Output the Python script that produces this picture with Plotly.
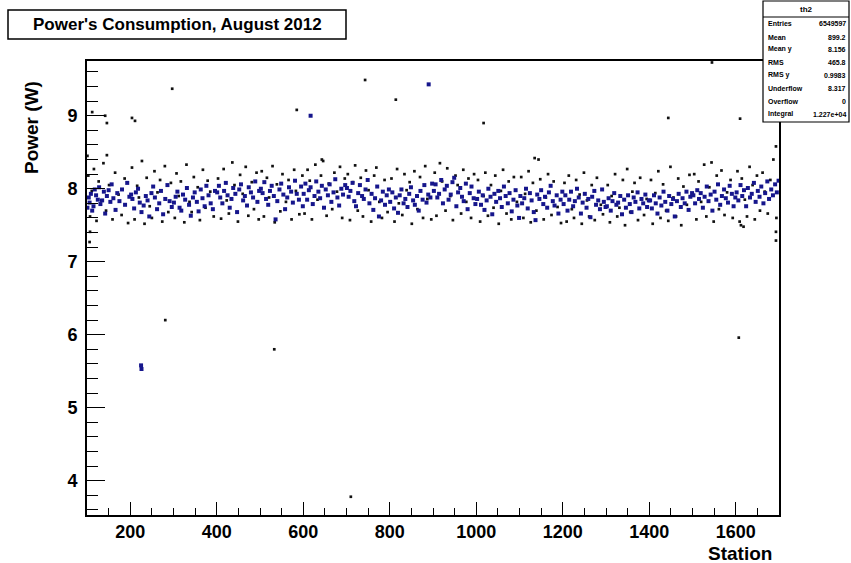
import plotly.graph_objects as go

# ---------------- data ----------------
blue_x = [101,104,106,109,112,115,118,121,125,128,131,135,139,142,146,150,154,157,161,166,170,175,181,188,193,198,
          202,205,209,213,218,222,226,231,236,240,244,249,253,257,262,267,271,276,281,286,291,296,
          301,305,309,314,318,322,327,331,336,340,345,349,354,358,363,367,372,376,381,386,391,396,
          401,405,408,413,417,421,425,430,434,438,443,447,452,456,461,465,470,474,479,484,489,494,498,
          502,506,510,514,519,523,527,532,536,540,545,549,554,558,563,567,572,576,581,585,590,595,599,
          601,605,609,613,617,622,626,630,635,639,643,648,652,657,661,665,670,674,679,683,688,692,697,
          701,705,709,714,718,722,727,731,736,740,744,749,753,758,762,766,771,775,780,784,789,793,798,
          801,806,810,814,819,823,827,832,836,841,845,849,854,858,863,867,871,876,880,885,889,894,898,
          902,906,910,914,919,923,927,932,936,941,945,949,954,958,963,967,971,976,980,985,989,994,998,
          1002,1006,1011,1015,1019,1024,1028,1033,1037,1042,1046,1051,1055,1059,1064,1068,1073,1077,1082,1086,1091,1095,1099,
          1102,1106,1111,1115,1119,1124,1128,1133,1137,1141,1146,1150,1155,1159,1164,1168,1172,1177,1181,1186,1190,1195,1199,
          1202,1206,1211,1215,1219,1224,1228,1233,1237,1242,1246,1251,1255,1259,1264,1268,1273,1277,1282,1286,1291,1295,1299,
          1302,1306,1311,1315,1319,1324,1328,1333,1337,1342,1346,1351,1355,1359,1364,1368,1373,1377,1382,1386,1391,1395,1399,
          1402,1406,1411,1415,1419,1424,1428,1433,1437,1442,1446,1451,1455,1459,1464,1468,1473,1477,1482,1486,1491,1495,1499,
          1502,1506,1511,1515,1519,1524,1528,1533,1537,1542,1546,1551,1555,1559,1564,1568,1573,1577,1582,1586,1591,1595,1599,
          1602,1606,1611,1615,1619,1624,1628,1633,1637,1642,1646,1651,1655,1659,1664,1668,1673,1677,1682,1686,1691,1695,1699,
          225,226,617,890]
blue_y = [7.74,7.88,7.81,7.93,7.70,7.76,7.99,7.91,7.85,8.02,7.79,7.84,7.96,7.66,7.90,7.98,7.82,8.06,7.87,7.71,7.94,7.83,7.99,7.78,8.08,7.89,
          7.92,7.86,7.73,7.95,8.00,7.81,7.68,7.77,7.90,7.84,7.62,7.94,8.03,7.88,7.72,7.80,7.97,7.65,7.86,8.05,7.83,7.75,
          7.81,7.89,7.96,7.74,7.70,7.92,7.85,8.01,7.78,7.63,7.88,7.95,7.82,7.69,7.99,7.87,7.76,8.04,7.91,7.80,7.72,7.97,
          7.95,8.04,7.88,7.80,7.97,8.08,7.91,7.74,7.86,8.01,7.93,7.68,7.99,8.06,7.84,7.90,7.77,8.02,7.95,7.88,8.10,7.82,7.97,
          8.00,7.94,8.09,7.86,7.78,7.97,8.04,7.90,7.58,7.83,7.99,8.07,7.92,7.72,7.88,8.02,7.96,7.81,8.11,7.93,7.85,8.03,7.76,
          7.93,8.07,7.85,7.98,8.02,7.79,7.90,8.10,7.96,7.87,8.04,7.74,7.99,7.91,8.06,7.82,7.95,8.13,7.88,7.77,8.00,7.92,8.05,
          8.01,7.89,7.97,8.08,7.83,7.76,7.94,8.05,7.90,7.86,7.99,8.12,7.80,7.93,7.71,7.87,8.03,7.62,7.84,7.96,7.78,7.91,7.99,
          7.82,7.95,7.73,7.88,7.67,7.91,7.99,7.80,7.86,7.75,7.93,8.02,7.84,7.78,7.90,7.70,7.97,7.85,8.05,7.81,7.92,7.88,8.07,
          7.97,8.06,7.88,7.93,8.12,7.80,7.99,8.04,7.85,7.92,8.09,8.15,7.76,7.95,8.01,7.89,7.83,8.07,7.72,7.94,8.03,7.87,7.79,
          7.86,7.96,7.78,7.91,7.71,7.84,8.00,7.89,7.65,7.93,7.82,7.97,7.87,7.75,8.03,7.90,7.80,7.94,7.69,7.85,7.98,7.77,7.60,
          7.90,7.80,7.87,8.00,7.73,7.94,7.84,7.68,7.57,7.92,7.86,7.98,7.79,7.89,7.74,7.95,8.04,7.83,7.77,7.91,7.66,7.85,7.96,
          7.79,7.91,7.70,7.85,7.96,7.76,7.83,8.00,7.88,7.66,7.81,7.93,7.74,7.86,7.61,7.89,7.97,7.78,7.84,7.72,7.99,7.82,7.75,
          7.76,7.87,7.70,7.83,7.94,7.78,7.81,7.90,7.65,7.85,7.74,7.91,7.79,7.68,7.88,7.82,7.95,7.73,7.86,7.80,7.92,7.75,7.84,
          7.84,7.73,7.91,7.80,7.66,7.88,7.77,7.96,7.82,7.70,7.90,7.79,7.86,7.62,7.83,7.93,7.75,7.87,7.80,7.96,7.71,7.89,7.94,
          7.91,7.80,7.98,7.86,7.94,7.74,7.89,8.03,7.83,7.92,7.70,7.96,7.85,8.06,7.78,7.90,7.99,7.87,7.81,8.04,7.93,7.76,7.88,
          7.95,7.84,8.05,7.90,7.98,7.76,8.01,7.88,7.93,8.08,7.82,7.97,7.89,8.03,7.80,7.94,8.10,7.86,7.99,7.91,8.06,7.95,8.11,
          5.58,5.53,9.00,9.43]

black_x = [103,107,111,116,122,127,133,138,144,151,159,165,173,180,187,195,
           204,210,216,220,227,233,238,245,250,256,263,269,274,280,288,294,
           303,307,312,317,325,330,337,342,347,356,361,368,374,379,385,393,
           403,410,416,423,428,436,441,449,454,460,467,473,481,486,492,497,
           504,509,516,521,529,534,539,547,552,560,566,573,579,583,591,598,
           603,610,615,620,628,633,641,646,654,659,667,672,678,685,690,696,
           703,708,715,720,726,733,738,745,751,757,764,769,776,782,788,795,
           804,811,817,821,829,834,839,846,851,857,864,870,877,882,887,896,
           904,908,916,921,929,933,940,946,952,957,965,970,977,982,988,995,
           1004,1009,1017,1021,1027,1034,1040,1044,1052,1057,1062,1070,1075,1081,1087,1094,
           1104,1109,1113,1121,1126,1131,1139,1144,1148,1156,1161,1166,1174,1179,1188,1196,
           1204,1209,1214,1221,1226,1231,1239,1244,1249,1256,1261,1267,1274,1279,1288,1293,
           1304,1309,1313,1321,1326,1331,1339,1344,1349,1356,1361,1366,1374,1379,1388,1394,
           1404,1408,1414,1421,1426,1432,1439,1444,1449,1456,1462,1467,1474,1479,1487,1493,
           1504,1509,1514,1520,1527,1532,1539,1544,1549,1556,1561,1567,1574,1580,1588,1593,
           1604,1609,1614,1621,1626,1632,1639,1644,1649,1656,1662,1667,1674,1680,1687,1694,
           112,142,146,204,211,297,101,146,281,533,585,643,710,743,814,
           1017,1135,1444,1545,1607,1610,1693,1693,1693,107,106,1612,1618]
black_y = [8.18,7.62,7.97,8.27,7.56,8.10,7.84,8.35,7.70,8.05,7.58,8.22,7.92,7.64,8.14,7.53,
           8.29,7.58,8.04,7.88,8.38,7.52,8.15,7.76,7.60,8.24,7.95,8.12,7.55,8.31,7.68,8.08,
           7.60,8.21,7.90,8.10,7.54,8.33,7.82,7.68,8.16,8.02,7.57,8.26,7.74,8.11,7.96,7.62,
           8.14,7.59,8.27,7.84,7.66,8.36,8.05,7.55,8.19,7.93,8.30,7.63,8.09,7.72,8.22,7.58,
           8.24,7.62,8.15,7.88,8.31,7.54,8.06,7.69,8.20,7.82,8.12,7.58,8.26,7.97,7.65,8.18,
           7.66,8.26,8.11,7.58,8.33,7.85,8.18,8.38,7.63,8.07,7.72,8.22,7.96,8.30,7.60,8.14,
           8.20,7.57,8.09,8.32,7.70,8.15,7.62,8.25,7.98,7.55,8.18,8.29,7.82,7.60,8.12,7.68,
           8.14,7.55,8.27,7.80,7.64,8.20,7.98,8.09,7.52,8.24,7.72,8.16,7.60,8.31,7.86,7.58,
           8.22,7.63,8.35,8.10,7.70,8.28,7.90,7.57,8.18,8.05,7.66,8.26,7.82,8.14,7.60,8.20,
           8.12,7.55,7.90,8.22,7.63,8.05,7.74,8.18,7.52,7.97,8.26,7.66,8.10,7.58,8.16,7.82,
           8.16,7.60,7.93,8.24,7.54,8.08,7.70,8.40,8.13,7.58,7.88,8.20,7.64,8.10,7.75,7.53,
           8.08,7.55,8.18,7.72,7.60,8.12,7.92,7.52,8.22,7.84,7.62,8.05,7.57,8.15,7.78,7.65,
           8.05,7.54,7.90,8.20,7.62,7.74,8.12,7.50,8.27,7.68,7.96,8.08,7.57,8.15,7.64,7.86,
           8.12,7.52,7.94,8.24,7.60,8.06,7.70,7.56,8.30,7.88,7.62,8.14,7.50,8.03,7.78,8.19,
           8.20,7.58,8.10,7.82,8.33,7.62,8.02,8.36,7.55,8.18,7.72,8.25,7.64,7.95,8.12,7.60,
           8.24,7.55,8.14,7.85,7.62,8.30,8.05,7.58,8.18,7.70,8.22,7.96,7.66,8.12,8.40,7.60,
           9.05,9.00,8.90,8.97,8.93,9.37,8.45,8.46,6.20,5.80,9.08,8.40,3.78,9.49,9.22,
           8.90,8.42,8.97,9.73,5.96,8.96,7.41,7.29,8.58,7.41,7.27,7.50,7.48]

x_ticks = [200, 400, 600, 800, 1000, 1200, 1400, 1600]
y_ticks = [4, 5, 6, 7, 8, 9]
x_range = [100, 1700]
y_range = [3.53, 9.75]

title_text = "Power's Consumption, August 2012"
x_title = "Station"
y_title = "Power (W)"
stats_name = "th2"
stats_labels = ["Entries", "Mean", "Mean y", "RMS", "RMS y", "Underflow", "Overflow", "Integral"]
stats_values = ["6549597", "899.2", "8.156", "465.8", "0.9983", "8.317", "0", "1.227e+04"]

# ---------------- layout geometry ----------------
W, H = 851, 563
L, R, T, B = 87, 779, 61, 515

def px(x):
    return (x - L) / (R - L)

def py(y):
    return (B - y) / (B - T)

FONT = "Liberation Sans, Arial, Helvetica, sans-serif"

fig = go.Figure()
fig.add_trace(go.Scatter(x=black_x, y=black_y, mode="markers",
                         marker=dict(symbol="square", size=2.7, color="#111111", line=dict(width=0)),
                         hoverinfo="skip", showlegend=False))
fig.add_trace(go.Scatter(x=blue_x, y=blue_y, mode="markers",
                         marker=dict(symbol="square", size=4.0, color="#16168c", line=dict(width=0)),
                         hoverinfo="skip", showlegend=False))

shapes = []
annotations = []

# title box
shapes.append(dict(type="rect", xref="paper", yref="paper", x0=px(8), x1=px(346), y0=py(39), y1=py(10),
                   line=dict(color="black", width=1.5), fillcolor="white", layer="above"))
annotations.append(dict(xref="paper", yref="paper", x=px(177), y=py(24.5), text=title_text,
                        showarrow=False, xanchor="center", yanchor="middle",
                        font=dict(family=FONT, size=17, color="black", weight="bold")))

# stats box
sx0, sx1, sy0, sy1 = 763, 849, 1, 122
shapes.append(dict(type="rect", xref="paper", yref="paper", x0=px(sx0), x1=px(sx1), y0=py(sy1), y1=py(sy0),
                   line=dict(color="black", width=1.2), fillcolor="white", layer="above"))
shapes.append(dict(type="line", xref="paper", yref="paper", x0=px(sx0), x1=px(sx1), y0=py(17), y1=py(17),
                   line=dict(color="black", width=1), layer="above"))
annotations.append(dict(xref="paper", yref="paper", x=px((sx0 + sx1) / 2), y=py(9.5), text=stats_name,
                        showarrow=False, xanchor="center", yanchor="middle",
                        font=dict(family=FONT, size=8, color="black", weight="bold")))
row_y = [24, 37, 49, 62, 75, 88, 101, 114]
for lab, val, ry in zip(stats_labels, stats_values, row_y):
    annotations.append(dict(xref="paper", yref="paper", x=px(sx0 + 3), y=py(ry), text=lab,
                            showarrow=False, xanchor="left", yanchor="middle",
                            font=dict(family=FONT, size=7, color="black", weight="bold")))
    annotations.append(dict(xref="paper", yref="paper", x=px(sx1 - 1), y=py(ry), text=val,
                            showarrow=False, xanchor="right", yanchor="middle",
                            font=dict(family=FONT, size=7, color="black", weight="bold")))

# axis titles
annotations.append(dict(xref="paper", yref="paper", x=px(31), y=py(128), text=y_title, textangle=-90,
                        showarrow=False, xanchor="center", yanchor="middle",
                        font=dict(family=FONT, size=19, color="black", weight="bold")))
annotations.append(dict(xref="paper", yref="paper", x=px(740), y=py(553), text=x_title,
                        showarrow=False, xanchor="center", yanchor="middle",
                        font=dict(family=FONT, size=19, color="black", weight="bold")))

fig.update_layout(
    width=W, height=H,
    margin=dict(l=L, r=W - R, t=T, b=H - B, pad=0),
    paper_bgcolor="white", plot_bgcolor="white",
    shapes=shapes, annotations=annotations,
    showlegend=False,
)
fig.update_xaxes(range=x_range, tickvals=x_ticks, ticktext=[str(v) for v in x_ticks],
                 ticks="inside", ticklen=13, tickwidth=1.3, tickcolor="black",
                 minor=dict(dtick=50, tick0=0, ticks="inside", ticklen=7, tickwidth=1.2, tickcolor="black"),
                 showline=True, linecolor="black", linewidth=1.6, mirror=True,
                 showgrid=False, zeroline=False, ticklabelstandoff=0,
                 tickfont=dict(family=FONT, size=18, color="black", weight="bold"))
fig.update_yaxes(range=y_range, tickvals=y_ticks, ticktext=[str(v) for v in y_ticks],
                 ticks="inside", ticklen=18, tickwidth=1.3, tickcolor="black",
                 minor=dict(dtick=0.2, tick0=0, ticks="inside", ticklen=11, tickwidth=1.2, tickcolor="black"),
                 showline=True, linecolor="black", linewidth=1.6, mirror=True,
                 showgrid=False, zeroline=False, ticklabelstandoff=4,
                 tickfont=dict(family=FONT, size=18, color="black", weight="bold"))

fig.write_html("out.html")
